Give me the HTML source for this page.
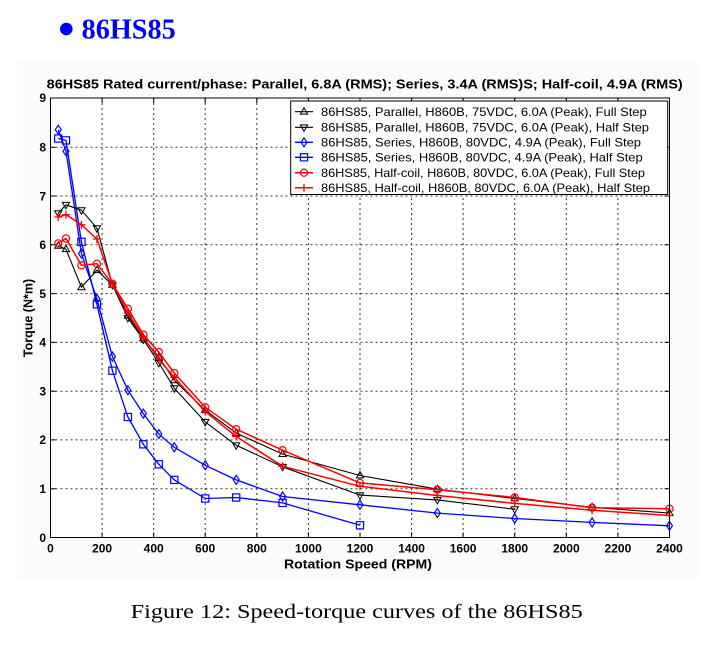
<!DOCTYPE html>
<html>
<head>
<meta charset="utf-8">
<style>
html,body{margin:0;padding:0;background:#fff;}
svg{display:block;}
</style>
</head>
<body>
<svg width="711" height="655" viewBox="0 0 711 655" xmlns="http://www.w3.org/2000/svg">
<defs>
<marker id="tuK" markerUnits="userSpaceOnUse" markerWidth="12" markerHeight="12" refX="6" refY="6" orient="0" overflow="visible"><path d="M6,2 L9.6,8.4 L2.4,8.4 Z" fill="none" stroke="#000" stroke-width="1"/></marker>
<marker id="tdK" markerUnits="userSpaceOnUse" markerWidth="12" markerHeight="12" refX="6" refY="6" orient="0" overflow="visible"><path d="M6,10 L9.6,3.6 L2.4,3.6 Z" fill="none" stroke="#000" stroke-width="1"/></marker>
<marker id="dmB" markerUnits="userSpaceOnUse" markerWidth="12" markerHeight="12" refX="6" refY="6" orient="0" overflow="visible"><path d="M6,1.5 L9,6 L6,10.5 L3,6 Z" fill="none" stroke="#0000ff" stroke-width="1.2"/></marker>
<marker id="sqB" markerUnits="userSpaceOnUse" markerWidth="12" markerHeight="12" refX="6" refY="6" orient="0" overflow="visible"><rect x="2.4" y="2.4" width="7.2" height="7.2" fill="none" stroke="#0000ff" stroke-width="1.2"/></marker>
<marker id="ciR" markerUnits="userSpaceOnUse" markerWidth="12" markerHeight="12" refX="6" refY="6" orient="0" overflow="visible"><circle cx="6" cy="6" r="3.6" fill="none" stroke="#ff0000" stroke-width="1.2"/></marker>
<marker id="plR" markerUnits="userSpaceOnUse" markerWidth="12" markerHeight="12" refX="6" refY="6" orient="0" overflow="visible"><path d="M2,6 H10 M6,2 V10" fill="none" stroke="#ff0000" stroke-width="1.3"/></marker>
</defs>

<!-- faint figure background -->
<rect x="17" y="62" width="682" height="516" fill="#fbfbfb"/>

<!-- heading -->
<circle cx="66.3" cy="29" r="6.3" fill="#0000ff"/>
<text x="81.7" y="38.3" font-family="Liberation Serif, serif" font-weight="bold" font-size="28" fill="#0000ff" textLength="94" lengthAdjust="spacingAndGlyphs">86HS85</text>

<!-- chart title -->
<text x="46.7" y="88.3" font-family="Liberation Sans, Arial, sans-serif" font-weight="bold" font-size="13" fill="#000" textLength="636" lengthAdjust="spacingAndGlyphs">86HS85 Rated current/phase: Parallel, 6.8A (RMS); Series, 3.4A (RMS)S; Half-coil, 4.9A (RMS)</text>

<!-- plot area -->
<rect x="50.5" y="98" width="619" height="439.5" fill="#fff"/>

<!-- grid -->
<g stroke="#333" stroke-width="1" stroke-dasharray="2,3" fill="none">
<line x1="102.1" y1="98" x2="102.1" y2="537.5"/>
<line x1="153.7" y1="98" x2="153.7" y2="537.5"/>
<line x1="205.2" y1="98" x2="205.2" y2="537.5"/>
<line x1="256.8" y1="98" x2="256.8" y2="537.5"/>
<line x1="308.4" y1="98" x2="308.4" y2="537.5"/>
<line x1="360.0" y1="98" x2="360.0" y2="537.5"/>
<line x1="411.6" y1="98" x2="411.6" y2="537.5"/>
<line x1="463.1" y1="98" x2="463.1" y2="537.5"/>
<line x1="514.7" y1="98" x2="514.7" y2="537.5"/>
<line x1="566.3" y1="98" x2="566.3" y2="537.5"/>
<line x1="617.9" y1="98" x2="617.9" y2="537.5"/>
<line x1="50.5" y1="488.7" x2="669.5" y2="488.7"/>
<line x1="50.5" y1="439.9" x2="669.5" y2="439.9"/>
<line x1="50.5" y1="391.2" x2="669.5" y2="391.2"/>
<line x1="50.5" y1="342.4" x2="669.5" y2="342.4"/>
<line x1="50.5" y1="293.6" x2="669.5" y2="293.6"/>
<line x1="50.5" y1="244.8" x2="669.5" y2="244.8"/>
<line x1="50.5" y1="196.0" x2="669.5" y2="196.0"/>
<line x1="50.5" y1="147.3" x2="669.5" y2="147.3"/>
</g>

<!-- ticks -->
<g stroke="#000" stroke-width="1">
<path d="M102.1,537.5 v-5 M153.7,537.5 v-5 M205.2,537.5 v-5 M256.8,537.5 v-5 M308.4,537.5 v-5 M360,537.5 v-5 M411.6,537.5 v-5 M463.1,537.5 v-5 M514.7,537.5 v-5 M566.3,537.5 v-5 M617.9,537.5 v-5"/>
<path d="M102.1,98 v5 M153.7,98 v5 M205.2,98 v5 M256.8,98 v5 M308.4,98 v5 M360,98 v5 M411.6,98 v5 M463.1,98 v5 M514.7,98 v5 M566.3,98 v5 M617.9,98 v5"/>
<path d="M50.5,488.7 h5 M50.5,439.9 h5 M50.5,391.2 h5 M50.5,342.4 h5 M50.5,293.6 h5 M50.5,244.8 h5 M50.5,196 h5 M50.5,147.3 h5"/>
<path d="M669.5,488.7 h-5 M669.5,439.9 h-5 M669.5,391.2 h-5 M669.5,342.4 h-5 M669.5,293.6 h-5 M669.5,244.8 h-5 M669.5,196 h-5 M669.5,147.3 h-5"/>
</g>

<!-- series -->
<g fill="none" stroke-linejoin="round">
<!-- Series Half (blue square) -->
<polyline stroke="#0000ff" stroke-width="1.3" marker-start="url(#sqB)" marker-mid="url(#sqB)" marker-end="url(#sqB)"
 points="58.24,138.5 65.97,140.4 81.45,241.9 96.92,304.3 112.4,370.7 127.87,417.0 143.34,444.3 158.82,464.3 174.29,479.9 205.24,498.5 236.19,497.5 282.61,502.9 359.98,525.3"/>
<!-- Series Full (blue diamond) -->
<polyline stroke="#0000ff" stroke-width="1.3" marker-start="url(#dmB)" marker-mid="url(#dmB)" marker-end="url(#dmB)"
 points="58.24,129.7 65.97,151.2 81.45,253.6 96.92,299.0 112.4,356.5 127.87,390.2 143.34,413.6 158.82,434.1 174.29,447.3 205.24,465.3 236.19,479.9 282.61,496.5 359.98,504.8 437.35,513.1 514.72,518.5 592.09,522.4 669.46,525.8"/>
<!-- Parallel Full (black triangle up) -->
<polyline stroke="#000" stroke-width="1.1" marker-start="url(#tuK)" marker-mid="url(#tuK)" marker-end="url(#tuK)"
 points="58.24,245.8 65.97,249.2 81.45,287.3 96.92,270.2 112.4,284.8 127.87,315.6 143.34,338.5 158.82,357.0 174.29,380.4 205.24,410.2 236.19,433.1 282.61,454.1 359.98,475.5 437.35,489.2 514.72,498.5 592.09,507.3 669.46,513.1"/>
<!-- Parallel Half (black triangle down) -->
<polyline stroke="#000" stroke-width="1.1" marker-start="url(#tdK)" marker-mid="url(#tdK)" marker-end="url(#tdK)"
 points="58.24,213.1 65.97,204.8 81.45,210.2 96.92,228.2 112.4,284.8 127.87,318.0 143.34,339.5 158.82,362.9 174.29,388.2 205.24,421.9 236.19,445.3 282.61,466.8 359.98,495.1 437.35,499.9 514.72,509.2"/>
<!-- Half-coil Full (red circle) -->
<polyline stroke="#ff0000" stroke-width="1.5" marker-start="url(#ciR)" marker-mid="url(#ciR)" marker-end="url(#ciR)"
 points="58.24,243.4 65.97,238.5 81.45,265.3 96.92,263.8 112.4,283.8 127.87,308.7 143.34,334.6 158.82,352.1 174.29,373.1 205.24,407.3 236.19,429.2 282.61,450.2 359.98,482.9 437.35,489.7 514.72,497.5 592.09,507.7 669.46,508.7"/>
<!-- Half-coil Half (red plus) -->
<polyline stroke="#ff0000" stroke-width="1.5" marker-start="url(#plR)" marker-mid="url(#plR)" marker-end="url(#plR)"
 points="58.24,217.0 65.97,214.6 81.45,224.8 96.92,239.0 112.4,283.8 127.87,313.1 143.34,337.0 158.82,359.5 174.29,377.5 205.24,411.6 236.19,436.5 282.61,466.3 359.98,486.3 437.35,495.5 514.72,503.4 592.09,510.2 669.46,515.5"/>
</g>

<!-- axes box -->
<rect x="50.5" y="98" width="619" height="439.5" fill="none" stroke="#000" stroke-width="1"/>

<!-- legend -->
<rect x="290.7" y="101" width="377" height="93.5" fill="#fff" stroke="#000" stroke-width="1"/>
<g fill="none">
<polyline points="295,111.7 304,111.7 313,111.7" stroke="#000" stroke-width="1.1" marker-mid="url(#tuK)"/>
<polyline points="295,127.3 304,127.3 313,127.3" stroke="#000" stroke-width="1.1" marker-mid="url(#tdK)"/>
<polyline points="295,142.3 304,142.3 313,142.3" stroke="#0000ff" stroke-width="1.3" marker-mid="url(#dmB)"/>
<polyline points="295,157.3 304,157.3 313,157.3" stroke="#0000ff" stroke-width="1.3" marker-mid="url(#sqB)"/>
<polyline points="295,172.7 304,172.7 313,172.7" stroke="#ff0000" stroke-width="1.5" marker-mid="url(#ciR)"/>
<polyline points="295,187.7 304,187.7 313,187.7" stroke="#ff0000" stroke-width="1.5" marker-mid="url(#plR)"/>
</g>
<g font-family="Liberation Sans, Arial, sans-serif" font-size="12" fill="#000" lengthAdjust="spacingAndGlyphs">
<text x="321" y="116" textLength="325.7" lengthAdjust="spacingAndGlyphs">86HS85, Parallel, H860B, 75VDC, 6.0A (Peak), Full Step</text>
<text x="321" y="131.6" textLength="328" lengthAdjust="spacingAndGlyphs">86HS85, Parallel, H860B, 75VDC, 6.0A (Peak), Half Step</text>
<text x="321" y="146.6" textLength="320" lengthAdjust="spacingAndGlyphs">86HS85, Series, H860B, 80VDC, 4.9A (Peak), Full Step</text>
<text x="321" y="161.6" textLength="321.7" lengthAdjust="spacingAndGlyphs">86HS85, Series, H860B, 80VDC, 4.9A (Peak), Half Step</text>
<text x="321" y="177" textLength="324" lengthAdjust="spacingAndGlyphs">86HS85, Half-coil, H860B, 80VDC, 6.0A (Peak), Full Step</text>
<text x="321" y="192" textLength="329" lengthAdjust="spacingAndGlyphs">86HS85, Half-coil, H860B, 80VDC, 6.0A (Peak), Half Step</text>
</g>

<!-- y tick labels -->
<g font-family="Liberation Sans, Arial, sans-serif" font-weight="bold" font-size="12" fill="#000" text-anchor="end">
<text x="46" y="541.8">0</text>
<text x="46" y="493">1</text>
<text x="46" y="444.2">2</text>
<text x="46" y="395.5">3</text>
<text x="46" y="346.7">4</text>
<text x="46" y="297.9">5</text>
<text x="46" y="249.1">6</text>
<text x="46" y="200.3">7</text>
<text x="46" y="151.6">8</text>
<text x="46" y="102">9</text>
</g>

<!-- x tick labels -->
<g font-family="Liberation Sans, Arial, sans-serif" font-weight="bold" font-size="12" fill="#000" text-anchor="middle">
<text x="50.5" y="552.3">0</text>
<text x="102.1" y="552.3">200</text>
<text x="153.7" y="552.3">400</text>
<text x="205.2" y="552.3">600</text>
<text x="256.8" y="552.3">800</text>
<text x="308.4" y="552.3">1000</text>
<text x="360" y="552.3">1200</text>
<text x="411.6" y="552.3">1400</text>
<text x="463.1" y="552.3">1600</text>
<text x="514.7" y="552.3">1800</text>
<text x="566.3" y="552.3">2000</text>
<text x="617.9" y="552.3">2200</text>
<text x="669.5" y="552.3">2400</text>
</g>

<!-- axis labels -->
<text x="358" y="568.5" font-family="Liberation Sans, Arial, sans-serif" font-weight="bold" font-size="12.5" fill="#000" text-anchor="middle" textLength="148" lengthAdjust="spacingAndGlyphs">Rotation Speed (RPM)</text>
<text transform="translate(32.5,318) rotate(-90)" x="0" y="0" font-family="Liberation Sans, Arial, sans-serif" font-weight="bold" font-size="12.5" fill="#000" text-anchor="middle">Torque (N*m)</text>

<!-- caption -->
<text x="130.7" y="618" font-family="Liberation Serif, serif" font-size="20" fill="#000" textLength="452" lengthAdjust="spacingAndGlyphs">Figure 12: Speed-torque curves of the 86HS85</text>
</svg>
</body>
</html>
